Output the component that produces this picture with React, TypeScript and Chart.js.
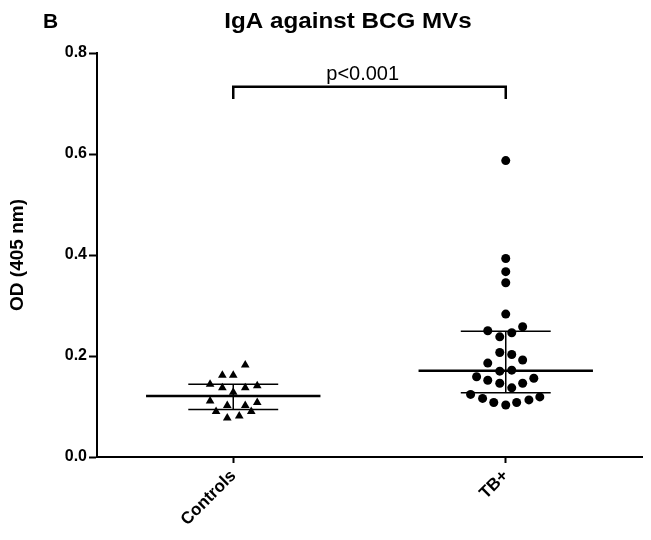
import React, { useEffect, useRef } from "react";
import { Chart, registerables } from "chart.js";

Chart.register(...registerables);

const categories = ["Controls", "TB+"];

// Controls (triangles): value and horizontal scatter position (category units)
const controlsValues = [0.182, 0.162, 0.162, 0.144, 0.137, 0.137, 0.141, 0.128, 0.111, 0.102, 0.102, 0.108, 0.09, 0.09, 0.077, 0.081];
const controlsX = [1.044, 0.96, 1.0, 0.915, 0.96, 1.044, 1.088, 1.0, 0.915, 0.978, 1.044, 1.088, 0.937, 1.066, 0.978, 1.022];

// TB+ (circles)
const tbValues = [0.587, 0.393, 0.367, 0.345, 0.283, 0.25, 0.246, 0.258, 0.238, 0.207, 0.203, 0.186, 0.192, 0.17, 0.172, 0.159, 0.156, 0.152, 0.146, 0.146, 0.137, 0.124, 0.119, 0.116, 0.113, 0.108, 0.108, 0.103];
const tbX = [2.0, 2.0, 2.0, 2.0, 2.0, 1.934, 2.022, 2.062, 1.978, 1.978, 2.022, 1.934, 2.062, 1.978, 2.022, 1.893, 2.103, 1.934, 2.062, 1.978, 2.022, 1.871, 2.125, 1.915, 2.085, 1.956, 2.04, 2.0];

// Median and interquartile range lines
const medians = [0.121, 0.171];
const lowerQ = [0.094, 0.127];
const upperQ = [0.144, 0.249];

const yTicks = [0, 0.2, 0.4, 0.6, 0.8];
const bracketLow = 0.709;
const bracketHigh = 0.733;
const pText = "p<0.001";
const pTextX = 1.475;
const pTextY = 0.757;
const chartTitle = "IgA against BCG MVs";
const panelLetter = "B";
const yTitle = "OD (405 nm)";

const FONT = "'Liberation Sans', Arial, sans-serif";

function seg(x1: number, y1: number, x2: number, y2: number, w: number) {
  return {
    type: "scatter" as const,
    data: [{ x: x1, y: y1 }, { x: x2, y: y2 }],
    showLine: true,
    borderColor: "#000",
    borderWidth: w,
    pointRadius: 0,
    pointHoverRadius: 0,
    order: 0,
  };
}

export default function App() {
  const ref = useRef<HTMLCanvasElement>(null);
  useEffect(() => {
    if (!ref.current) return;
    const lineSets: any[] = [];
    medians.forEach((m, i) => {
      const c = i + 1;
      lineSets.push(seg(c - 0.32, m, c + 0.32, m, 2.5));
      lineSets.push(seg(c, lowerQ[i], c, upperQ[i], 1.5));
      lineSets.push(seg(c - 0.165, lowerQ[i], c + 0.165, lowerQ[i], 1.5));
      lineSets.push(seg(c - 0.165, upperQ[i], c + 0.165, upperQ[i], 1.5));
    });
    const bracket = {
      type: "scatter" as const,
      data: [
        { x: 1, y: bracketLow },
        { x: 1, y: bracketHigh },
        { x: 2, y: bracketHigh },
        { x: 2, y: bracketLow },
      ],
      showLine: true,
      borderColor: "#000",
      borderWidth: 2.5,
      pointRadius: 0,
      order: 0,
    };
    const textPlugin = {
      id: "texts",
      afterDraw(chart: any) {
        const ctx = chart.ctx;
        const xs = chart.scales.x;
        const ys = chart.scales.y;
        ctx.save();
        ctx.fillStyle = "#000";
        ctx.textBaseline = "middle";
        ctx.textAlign = "center";
        ctx.save();
        ctx.translate(348, 22);
        ctx.scale(1.1, 1);
        ctx.font = `bold 22px ${FONT}`;
        ctx.fillText(chartTitle, 0, 0);
        ctx.restore();
        ctx.textAlign = "left";
        ctx.font = `bold 21px ${FONT}`;
        ctx.fillText(panelLetter, 43, 22);
        ctx.textAlign = "center";
        ctx.font = `20px ${FONT}`;
        ctx.fillText(pText, xs.getPixelForValue(pTextX), ys.getPixelForValue(pTextY));
        ctx.restore();
      },
    };
    const chart = new Chart(ref.current, {
      type: "scatter",
      data: {
        datasets: [
          {
            data: controlsValues.map((v, i) => ({ x: controlsX[i], y: v })),
            pointStyle: "triangle",
            pointRadius: 5,
            backgroundColor: "#000",
            borderColor: "#000",
            borderWidth: 0,
            order: 1,
          },
          {
            data: tbValues.map((v, i) => ({ x: tbX[i], y: v })),
            pointStyle: "circle",
            pointRadius: 4.5,
            backgroundColor: "#000",
            borderColor: "#000",
            borderWidth: 0,
            order: 1,
          },
          ...lineSets,
          bracket,
        ] as any,
      },
      plugins: [textPlugin],
      options: {
        animation: false,
        responsive: false,
        devicePixelRatio: 1,
        layout: { padding: { top: 53, right: 9, left: 0, bottom: 0 } },
        plugins: { legend: { display: false }, tooltip: { enabled: false }, title: { display: false } },
        scales: {
          x: {
            type: "linear",
            min: 0.5,
            max: 2.5,
            afterBuildTicks: (s: any) => {
              s.ticks = categories.map((_, i) => ({ value: i + 1 }));
            },
            afterFit: (s: any) => {
              s.height = 83;
            },
            ticks: {
              callback: (v: any) => categories[Math.round(v) - 1] ?? "",
              maxRotation: 45,
              minRotation: 45,
              color: "#000",
              font: { family: FONT, size: 17, weight: "bold" },
              padding: 3,
            },
            grid: { display: true, drawOnChartArea: false, drawTicks: true, tickLength: 6, tickColor: "#000", tickWidth: 2 },
            border: { display: true, color: "#000", width: 2 },
          },
          y: {
            min: 0,
            max: 0.8,
            afterBuildTicks: (s: any) => {
              s.ticks = yTicks.map((v) => ({ value: v }));
            },
            afterFit: (s: any) => {
              s.width = 97;
            },
            ticks: {
              callback: (v: any) => Number(v).toFixed(1),
              color: "#000",
              font: { family: FONT, size: 16, weight: "bold" },
              padding: 2,
            },
            grid: { display: true, drawOnChartArea: false, drawTicks: true, tickLength: 8, tickColor: "#000", tickWidth: 2 },
            border: { display: true, color: "#000", width: 2 },
            title: {
              display: true,
              text: yTitle,
              color: "#000",
              font: { family: FONT, size: 19, weight: "bold" },
              padding: { top: 6, bottom: 0 },
            },
          },
        },
      },
    });
    return () => chart.destroy();
  }, []);
  return (
    <div style={{ position: "fixed", left: 0, top: 0, width: 651, height: 540, background: "#fff" }}>
      <canvas ref={ref} width={651} height={540} />
    </div>
  );
}
